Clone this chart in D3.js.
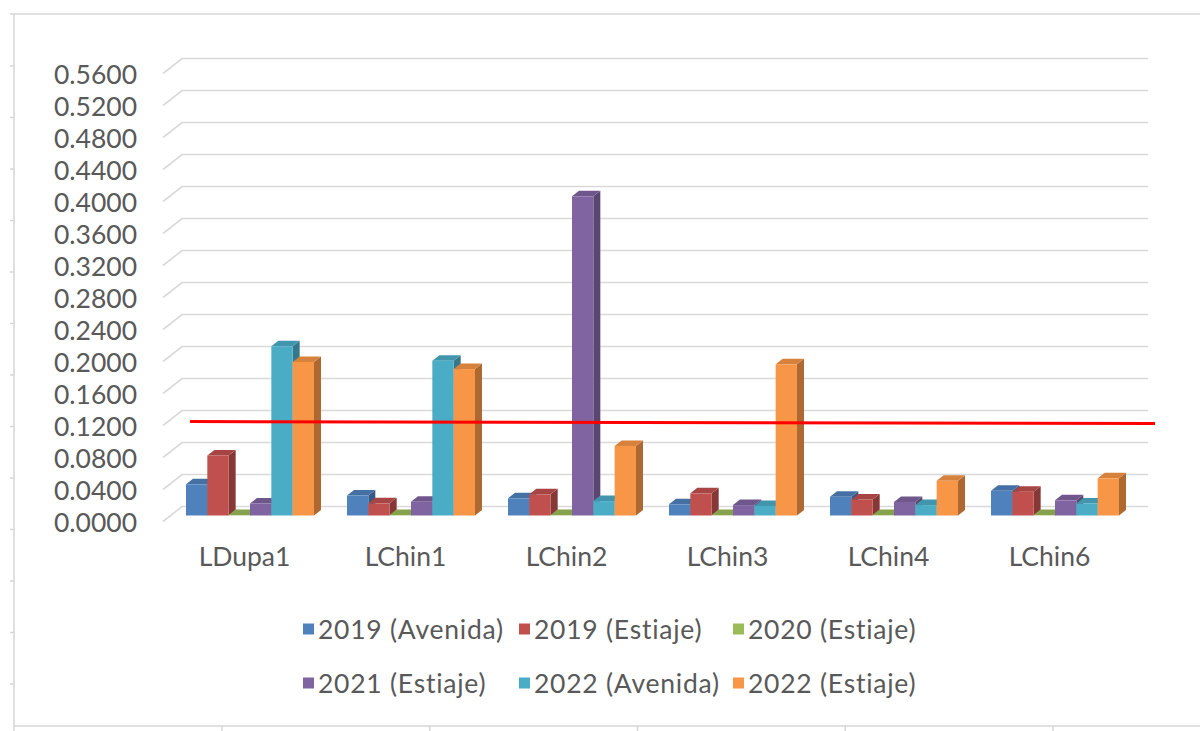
<!DOCTYPE html>
<html>
<head>
<meta charset="utf-8">
<script src="https://cdn.jsdelivr.net/npm/d3@7"></script>
<style>
  html, body { margin: 0; padding: 0; background: #ffffff; }
  svg { display: block; }
  text { font-family: Lato, "Open Sans", sans-serif; fill: #595959; }
</style>
</head>
<body>
<svg id="chart" width="1200" height="731"></svg>
<script>
// Sampling sites and series
const categories = ["LDupa1", "LChin1", "LChin2", "LChin3", "LChin4", "LChin6"];
const seriesNames = ["2019 (Avenida)", "2019 (Estiaje)", "2020 (Estiaje)",
                     "2021 (Estiaje)", "2022 (Avenida)", "2022 (Estiaje)"];
const seriesColors = ["#4F81BD", "#C0504D", "#9BBB59", "#8064A2", "#4BACC6", "#F79646"];

const v2019Avenida = [0.0390, 0.0250, 0.0215, 0.0140, 0.0235, 0.0310];
const v2019Estiaje = [0.0750, 0.0152, 0.0265, 0.0277, 0.0200, 0.0298];
const v2020Estiaje = [0.0005, 0.0005, 0.0005, 0.0005, 0.0005, 0.0005];
const v2021Estiaje = [0.0150, 0.0173, 0.3990, 0.0130, 0.0170, 0.0190];
const v2022Avenida = [0.2115, 0.1935, 0.0180, 0.0120, 0.0130, 0.0150];
const v2022Estiaje = [0.1920, 0.1830, 0.0870, 0.1890, 0.0435, 0.0465];
const seriesValues = [v2019Avenida, v2019Estiaje, v2020Estiaje, v2021Estiaje, v2022Avenida, v2022Estiaje];

const yTickValues = [0, 0.04, 0.08, 0.12, 0.16, 0.20, 0.24, 0.28, 0.32, 0.36, 0.40, 0.44, 0.48, 0.52, 0.56];
// reference limit line (value at its left and right ends)
const limitLine = [0.1175, 0.1150];

// ---- layout ----
const W = 1200, H = 731;
const svg = d3.select("#chart");
svg.append("rect").attr("width", W).attr("height", H).attr("fill", "#ffffff");

const frameColor = "#d6d6d6";
const gridColor = "#d9d9d9";

// oblique 3D offsets
const wallShift = { dx: 12.5, dy: -9 };   // from bar front plane to back wall
const floorDepth = { dx: -19, dy: 15 };   // from back wall to front edge of floor
const barDepth = { dx: 7, dy: -5.5 };     // depth of each bar

// scales on the bars' front plane
const x = d3.scaleBand().domain(categories).range([169.5, 1135.5])
  .paddingInner(0.205).paddingOuter(0.1025);
const xs = d3.scaleBand().domain(seriesNames).range([0, x.bandwidth()]);
const y = d3.scaleLinear().domain([0, 0.56]).range([515.5, 67.5]);
const color = d3.scaleOrdinal().domain(seriesNames).range(seriesColors);

// ---- surrounding frame with small tick marks ----
const frame = svg.append("g").attr("stroke", frameColor).attr("stroke-width", 1.5).attr("fill", "none");
frame.append("line").attr("x1", 10).attr("x2", W).attr("y1", 14).attr("y2", 14);
frame.append("line").attr("x1", 14).attr("x2", 14).attr("y1", 14).attr("y2", H);
frame.append("line").attr("x1", 14).attr("x2", W).attr("y1", 726).attr("y2", 726);
const leftTicks = d3.range(13).map(i => 66 + i * 51.5);
frame.selectAll(".lt").data(leftTicks).join("line")
  .attr("x1", 10).attr("x2", 14).attr("y1", d => d).attr("y2", d => d);
const bottomTicks = d3.range(5).map(i => 222 + i * 207.75);
frame.selectAll(".bt").data(bottomTicks).join("line")
  .attr("x1", d => d).attr("x2", d => d).attr("y1", 726).attr("y2", H);

// ---- back wall gridlines with floor diagonals ----
const wallLeft = x.range()[0] + wallShift.dx;
const wallRight = x.range()[1] + wallShift.dx;
const yWall = v => y(v) + wallShift.dy;
const grid = svg.append("g").attr("stroke", gridColor).attr("stroke-width", 1.6).attr("fill", "none");
grid.selectAll("path").data(yTickValues).join("path")
  .attr("d", v => `M${wallLeft + floorDepth.dx},${yWall(v) + floorDepth.dy}L${wallLeft},${yWall(v)}L${wallRight},${yWall(v)}`);

// ---- value axis labels ----
const yLabelScale = d3.scaleLinear().domain(y.domain())
  .range(y.range().map(r => r + wallShift.dy + floorDepth.dy));
const yAxis = d3.axisLeft(yLabelScale).tickValues(yTickValues)
  .tickFormat(d3.format(".4f")).tickSize(0).tickPadding(0);
svg.append("g").attr("transform", "translate(137,0)").call(yAxis)
  .call(g => g.select(".domain").remove())
  .selectAll("text")
  .attr("font-family", "Lato, sans-serif").attr("font-size", 26.5).attr("fill", "#595959")
  .attr("dy", "0.36em");

// ---- bars ----
const bars = [];
categories.forEach((c, i) => {
  seriesNames.forEach((s, j) => bars.push({ cat: c, series: s, value: seriesValues[j][i] }));
});
const gBars = svg.append("g");
const barG = gBars.selectAll("g").data(bars).join("g");
const bw = xs.bandwidth();
const x0 = d => x(d.cat) + xs(d.series);
barG.append("path") // side face
  .attr("fill", d => d3.color(color(d.series)).darker(1.0))
  .attr("d", d => {
    const xa = x0(d) + bw, yt = y(d.value), yb = y(0);
    return `M${xa},${yt}L${xa + barDepth.dx},${yt + barDepth.dy}L${xa + barDepth.dx},${yb + barDepth.dy}L${xa},${yb}Z`;
  });
barG.append("path") // top face
  .attr("fill", d => d3.color(color(d.series)).darker(0.4))
  .attr("d", d => {
    const xa = x0(d), yt = y(d.value);
    return `M${xa},${yt}L${xa + barDepth.dx},${yt + barDepth.dy}L${xa + bw + barDepth.dx},${yt + barDepth.dy}L${xa + bw},${yt}Z`;
  });
barG.append("rect") // front face
  .attr("x", d => x0(d)).attr("y", d => y(d.value))
  .attr("width", bw).attr("height", d => y(0) - y(d.value))
  .attr("fill", d => color(d.series));

// ---- limit line ----
svg.append("line")
  .attr("x1", x.range()[0] + 20.5).attr("x2", x.range()[1] + 19.5)
  .attr("y1", y(limitLine[0])).attr("y2", y(limitLine[1]))
  .attr("stroke", "#ff0000").attr("stroke-width", 3);

// ---- category labels ----
const xAxis = d3.axisBottom(x).tickSize(0).tickPadding(0);
svg.append("g").attr("transform", "translate(-5.5,556)").call(xAxis)
  .call(g => g.select(".domain").remove())
  .selectAll("text")
  .attr("font-family", "Lato, sans-serif").attr("font-size", 26.5).attr("fill", "#595959")
  .attr("dy", "0.36em");

// ---- legend (three columns, two rows) ----
const legendCols = [303, 519, 733];
const legendRowsY = [629, 683];
const legend = svg.append("g");
seriesNames.forEach((name, idx) => {
  const lx = legendCols[idx % 3], ly = legendRowsY[Math.floor(idx / 3)];
  const it = legend.append("g").attr("transform", `translate(${lx},${ly})`);
  it.append("rect").attr("x", 0).attr("y", -5.5).attr("width", 11).attr("height", 11)
    .attr("fill", color(name));
  it.append("text").attr("x", 15).attr("y", 0).attr("dy", "0.36em")
    .attr("font-size", 26.5).attr("letter-spacing", "0.75px").text(name);
});
</script>
</body>
</html>
